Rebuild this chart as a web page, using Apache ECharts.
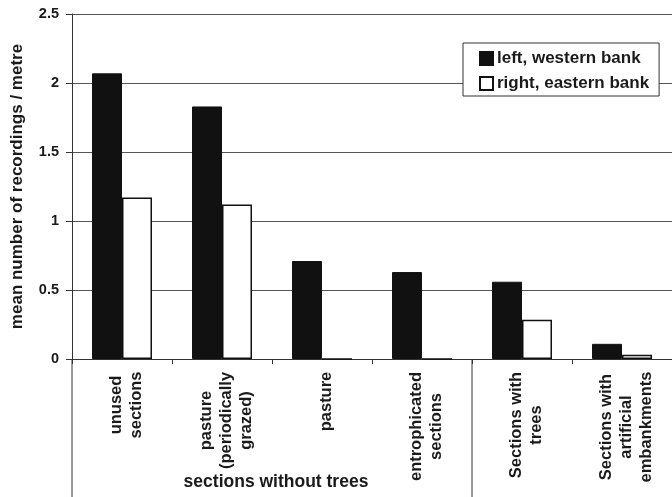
<!DOCTYPE html>
<html>
<head>
<meta charset="utf-8">
<script src="https://cdn.jsdelivr.net/npm/echarts@6/dist/echarts.min.js"></script>
<style>
  html, body { margin: 0; padding: 0; background: #fff; }
  #main { width: 672px; height: 497px; }
</style>
</head>
<body>
<div id="main"></div>
<script>
  // category labels, one entry per line
  const categories = [
    ['unused', 'sections'],
    ['pasture', '(periodically', 'grazed)'],
    ['pasture'],
    ['entrophicated', 'sections'],
    ['Sections with', 'trees'],
    ['Sections with', 'artificial', 'embankments']
  ];
  const westernBank = [2.07, 1.83, 0.71, 0.63, 0.56, 0.11];
  const easternBank = [1.17, 1.12, 0, 0, 0.285, 0.03];
  const seriesNames = ['left, western bank', 'right, eastern bank'];
  const yMin = 0, yMax = 2.5, yStep = 0.5;
  const yName = 'mean number of recordings / metre';
  const groupLabel = 'sections without trees';
  const groupEnd = 3; // last category of the group

  const FONT = 'Arial, "Liberation Sans", Helvetica, sans-serif';
  const INK = '#1a1a1a';
  const LABEL_SIZE = 16.5;
  const cats = categories.map(c => c.join('\n'));

  // every line of a label is centred inside the width of its longest line
  const ctx = document.createElement('canvas').getContext('2d');
  ctx.font = 'bold ' + LABEL_SIZE + 'px ' + FONT;
  const rich = {};
  categories.forEach((lines, i) => {
    const w = Math.ceil(Math.max(...lines.map(l => ctx.measureText(l).width))) + 1;
    rich['c' + i] = {
      width: w, align: 'center', fontSize: LABEL_SIZE, fontWeight: 'bold',
      fontFamily: FONT, color: INK, lineHeight: 20
    };
  });

  const option = {
    animation: false,
    backgroundColor: '#fff',
    grid: { left: 72, right: -6, top: 14, bottom: 138, containLabel: false },
    legend: {
      left: 463, top: 43,
      orient: 'vertical',
      icon: 'rect',
      itemWidth: 13, itemHeight: 13, itemGap: 8,
      padding: [7, 10, 4, 16],
      backgroundColor: '#fff',
      borderColor: '#333', borderWidth: 1,
      textStyle: { fontFamily: FONT, fontSize: 17, fontWeight: 'bold', color: INK, padding: [0, 0, 0, -1] },
      data: seriesNames
    },
    xAxis: {
      type: 'category',
      data: cats,
      axisLine: { lineStyle: { color: '#333', width: 1 } },
      axisTick: { show: true, length: 5, alignWithLabel: false, lineStyle: { color: '#333' } },
      axisLabel: {
        interval: 0, rotate: 90, margin: 12,
        padding: [8, 0, 0, 0],
        formatter: (value, index) => value.split('\n').map(l => '{c' + index + '|' + l + '}').join('\n'),
        rich: rich
      }
    },
    yAxis: {
      type: 'value',
      min: yMin, max: yMax, interval: yStep,
      name: yName,
      nameLocation: 'middle',
      nameGap: 46,
      nameTextStyle: { fontFamily: FONT, fontSize: 17, fontWeight: 'bold', color: INK },
      axisLine: { show: true, lineStyle: { color: '#333', width: 1 } },
      axisTick: { show: true, length: 6, lineStyle: { color: '#333' } },
      axisLabel: { margin: 13, fontFamily: FONT, fontSize: 14.5, fontWeight: 'bold', color: INK },
      splitLine: { show: true, lineStyle: { color: '#555', width: 1 } }
    },
    series: [
      {
        name: seriesNames[0],
        type: 'bar',
        data: westernBank,
        barGap: '0%',
        barCategoryGap: '40%',
        itemStyle: { color: '#111', borderColor: '#111', borderWidth: 1 }
      },
      {
        name: seriesNames[1],
        type: 'bar',
        data: easternBank,
        itemStyle: { color: '#fff', borderColor: '#111', borderWidth: 1.5 }
      }
    ]
  };

  const chart = echarts.init(document.getElementById('main'));
  chart.setOption(option);

  // axis extension below the plot and the group separator
  const x0 = chart.convertToPixel({ xAxisIndex: 0 }, 0);
  const x1 = chart.convertToPixel({ xAxisIndex: 0 }, 1);
  const half = (x1 - x0) / 2;
  const leftEdge = x0 - half;
  const sep = chart.convertToPixel({ xAxisIndex: 0 }, groupEnd) + half;
  const base = chart.convertToPixel({ yAxisIndex: 0 }, 0);

  chart.setOption({
    graphic: [
      { type: 'line', shape: { x1: leftEdge, y1: base, x2: leftEdge, y2: 497 }, style: { stroke: '#333', lineWidth: 1 } },
      { type: 'line', shape: { x1: sep, y1: base, x2: sep, y2: 497 }, style: { stroke: '#333', lineWidth: 1 } },
      {
        type: 'text', x: (leftEdge + sep) / 2 + 4, y: 482,
        style: {
          text: groupLabel, align: 'center', verticalAlign: 'middle',
          font: 'bold 17.5px ' + FONT, fill: INK
        }
      }
    ]
  });
</script>
</body>
</html>
